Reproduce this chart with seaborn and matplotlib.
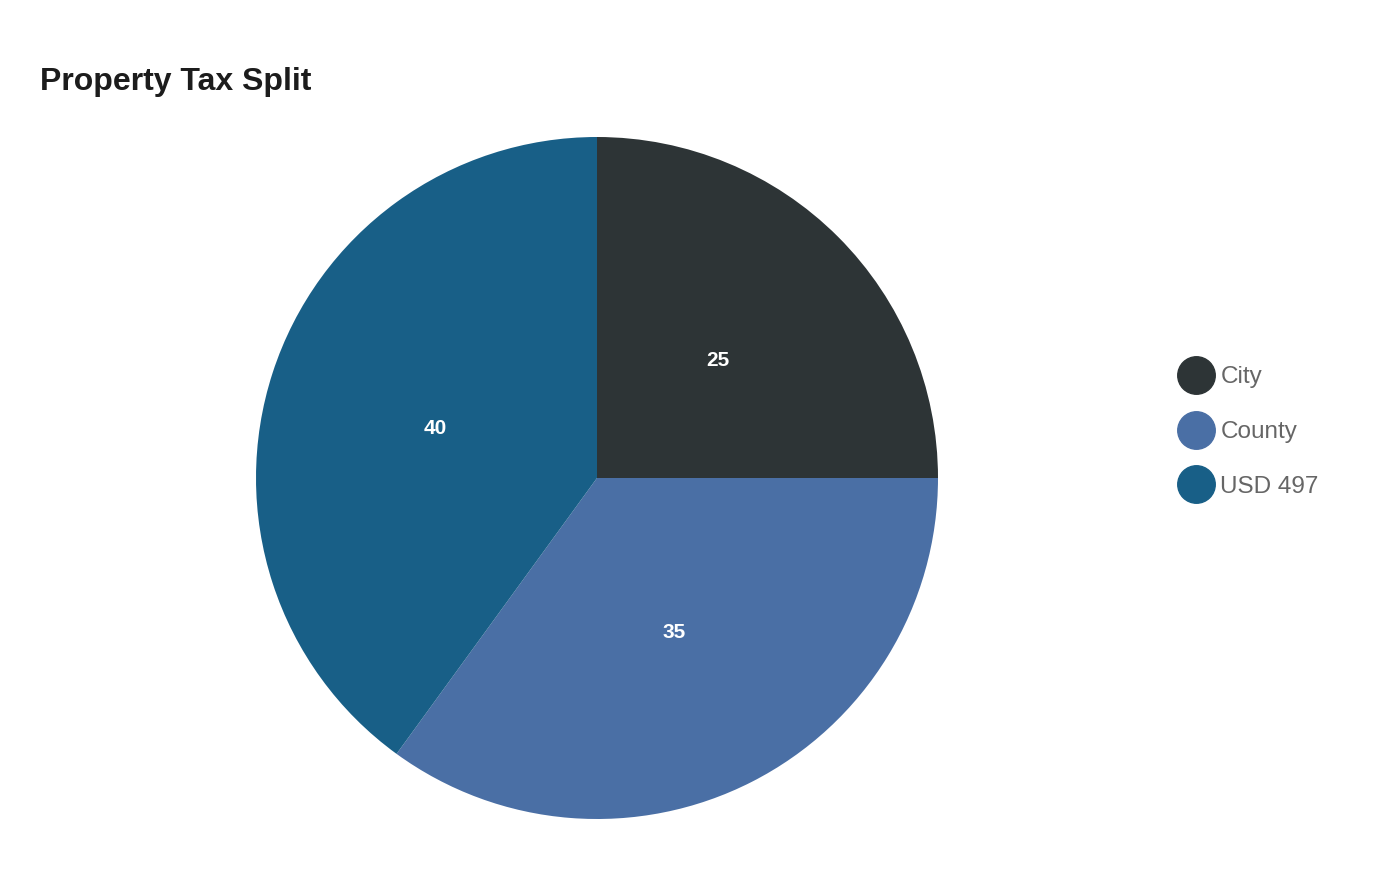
import matplotlib
matplotlib.use("Agg")
import matplotlib.pyplot as plt
import matplotlib.transforms as mtransforms
from matplotlib.lines import Line2D
import seaborn as sns

categories = ["City", "County", "USD 497"]
values = [25, 35, 40]
colors = ["#2d3436", "#4a6fa5", "#185f87"]
title = "Property Tax Split"

sns.set_theme(style="white")
plt.rcParams['font.family'] = ['Liberation Sans', 'DejaVu Sans']

W, H = 1400, 880
fig = plt.figure(figsize=(W / 100, H / 100), dpi=100)
fig.patch.set_facecolor("white")

cx, cy, r = 597, 478, 341
ax = fig.add_axes([(cx - r) / W, (H - cy - r) / H, 2 * r / W, 2 * r / H])

total = sum(values)
wedges, texts, autotexts = ax.pie(
    values,
    colors=colors,
    startangle=90,
    counterclock=False,
    autopct=lambda p: f"{p * total / 100:.0f}",
    pctdistance=0.5,
    radius=1.0,
    wedgeprops=dict(linewidth=0),
    textprops=dict(color="white", fontsize=15, fontweight="bold"),
)
for t in autotexts:
    t.set_transform(mtransforms.offset_copy(t.get_transform(), fig=fig,
                                            x=0, y=-3, units="dots"))
ax.set_xlim(-1, 1)
ax.set_ylim(-1, 1)
ax.set_aspect("equal")
ax.axis("off")

fig.text(40 / W, 1 - 82 / H, title, fontsize=23, fontweight="bold",
         color="#1c1c1c", ha="left", va="center")

handles = [Line2D([0], [0], marker="o", linestyle="none", markersize=27,
                  markerfacecolor=c, markeredgecolor=c) for c in colors]
leg = fig.legend(handles, categories, loc="center left",
                 bbox_to_anchor=(1184 / W, 1 - 432 / H),
                 frameon=False, fontsize=17.5, labelcolor="#666666",
                 handlelength=1.0, handletextpad=0.5, labelspacing=1.35,
                 borderaxespad=0, borderpad=0)

fig.savefig("out.png", dpi=100, facecolor="white")
